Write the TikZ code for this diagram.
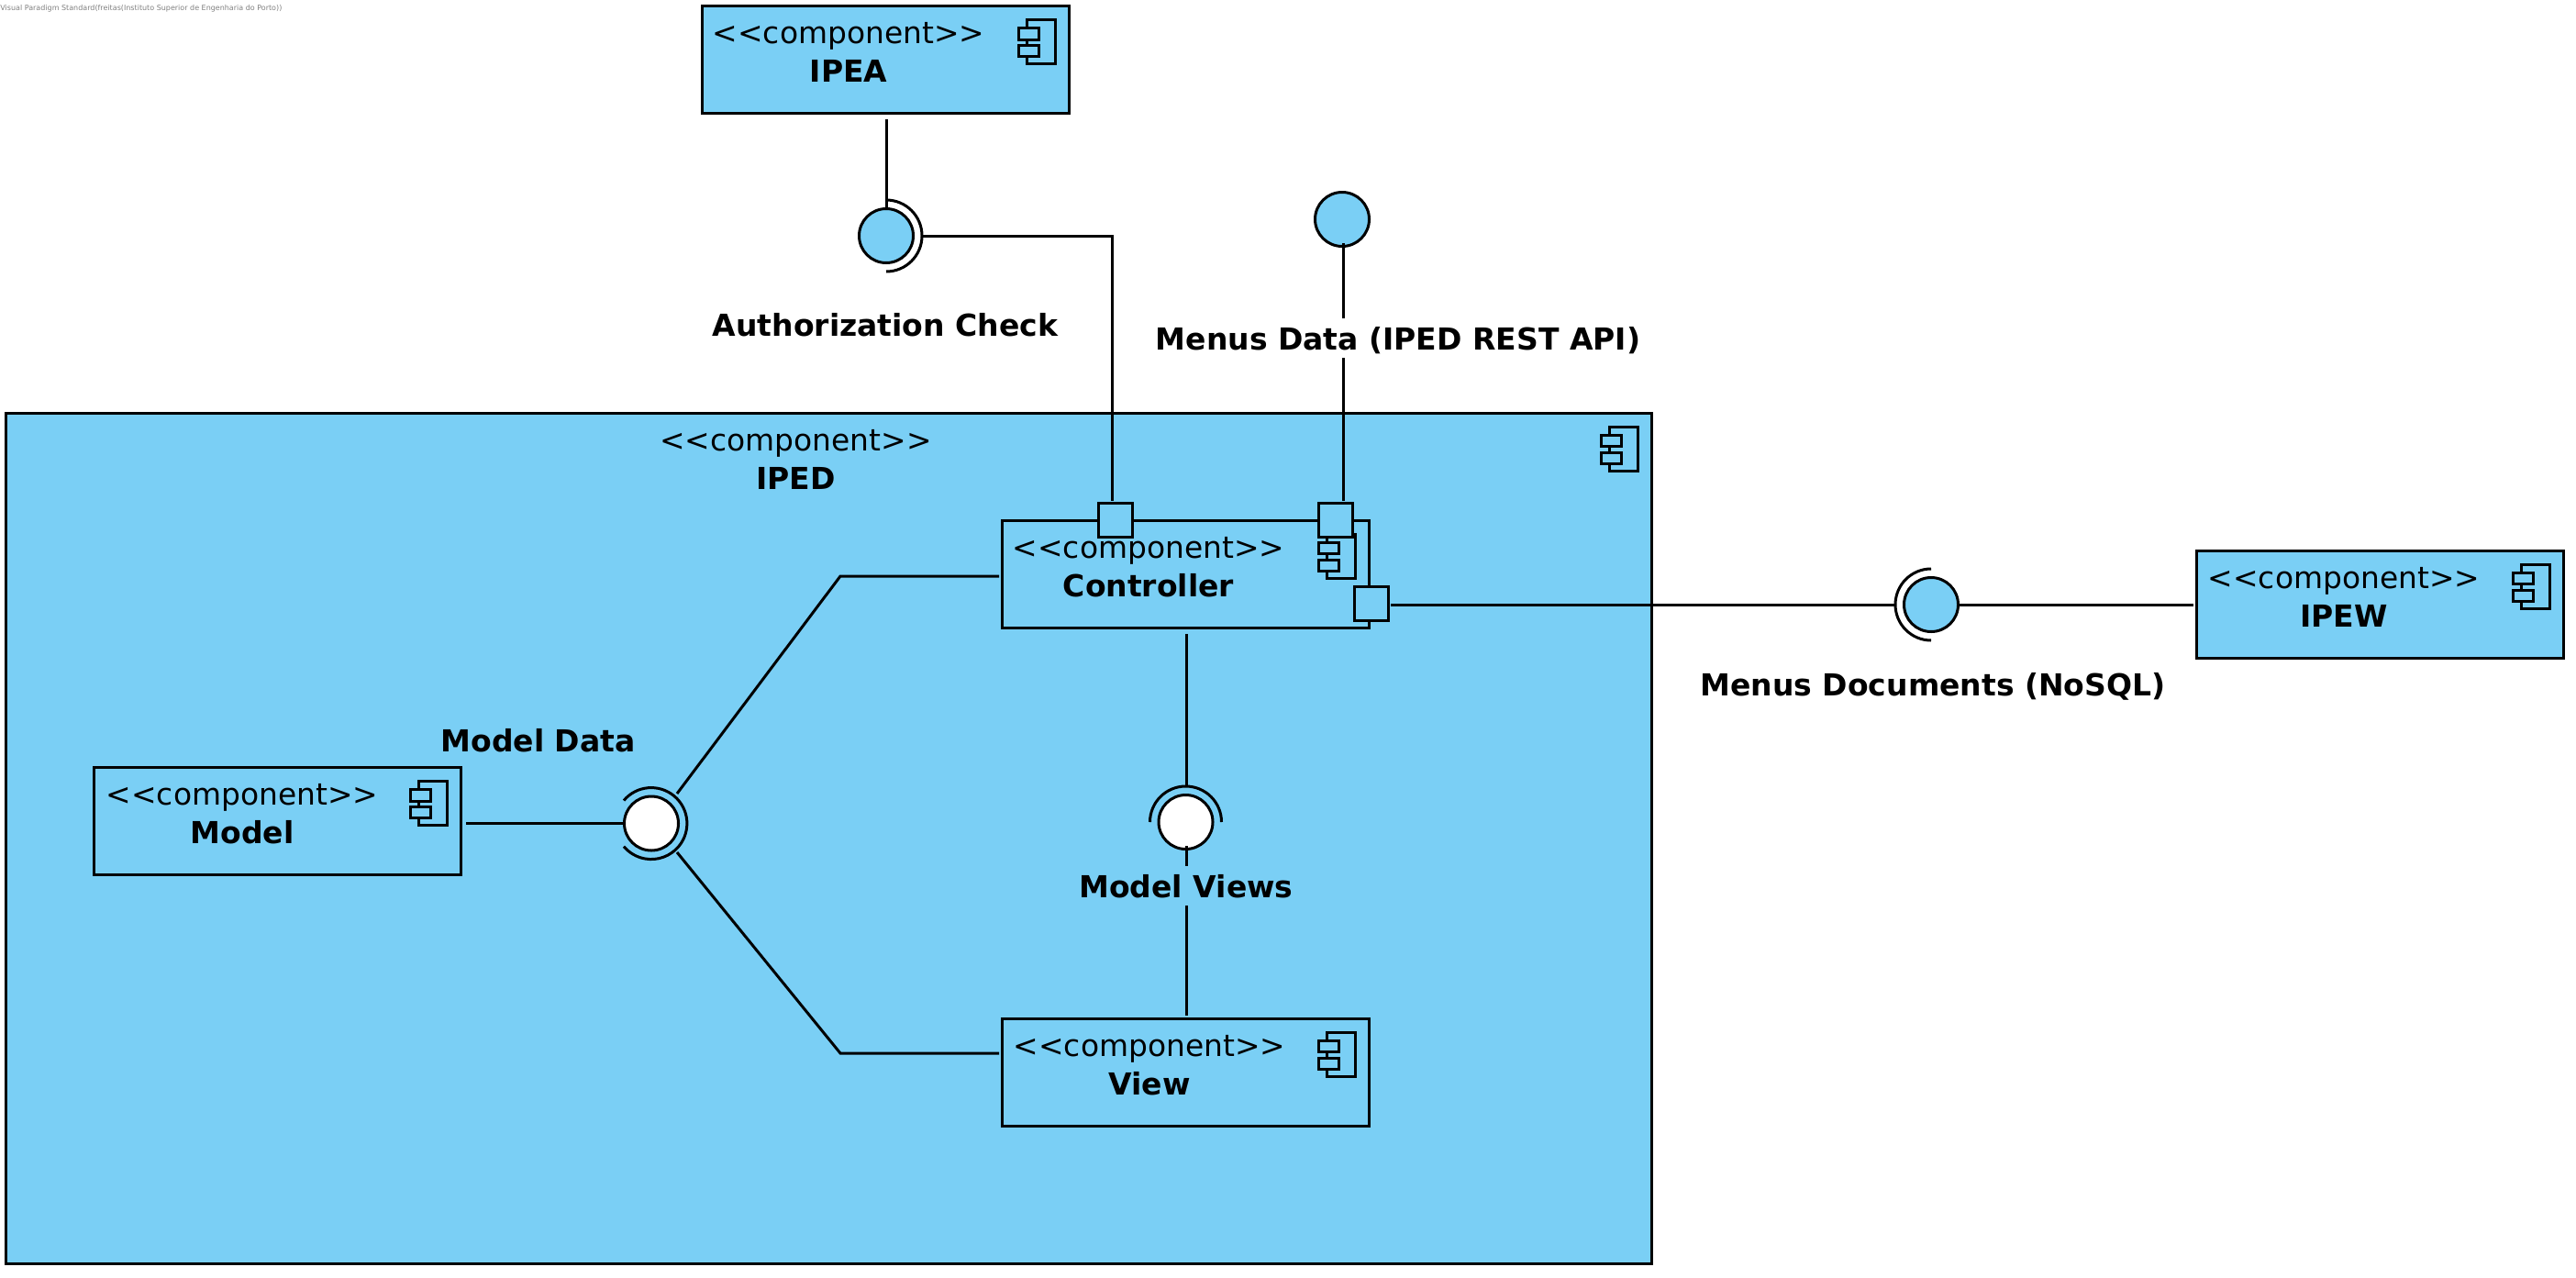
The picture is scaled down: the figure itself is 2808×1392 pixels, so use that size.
\documentclass[tikz,border=0pt]{standalone}
\usepackage{fontspec}
\setmainfont{DejaVu Sans}
\usetikzlibrary{calc}

\definecolor{compblue}{RGB}{122,207,245}

\tikzset{
  compbox/.style={rectangle,draw,fill=compblue,line width=1.5pt,inner sep=0pt,outer sep=0pt},
  portbox/.style={compbox,minimum width=18.5pt,minimum height=18.5pt},
  ball/.style={circle,draw,line width=1.5pt,inner sep=0pt,minimum size=29.5pt},
  conn/.style={line width=1.5pt},
  compstereo/.style={anchor=base,inner sep=0pt,font=\fontsize{16.45pt}{18pt}\selectfont},
  compname/.style={anchor=base,inner sep=0pt,font=\fontsize{16.5pt}{18pt}\selectfont\bfseries},
  ifacelabel/.style={compname,text height=17pt,text depth=4.5pt}
}

% box texts and the little component icon
\newcommand{\compparts}[3]{
  \node[compstereo] (#1stereo) at ($(#1.north west)+(#3,41)$) {<{}<component>{}>};
  \node[compname] (#1name) at ($(#1.north west)+(#3,83)$) {#2};
  \draw[conn] ($(#1.north east)+(-46,15)$) rectangle ($(#1.north east)+(-15,63)$);
  \draw[conn,fill=compblue] ($(#1.north east)+(-55,24)$) rectangle ($(#1.north east)+(-33,36.5)$);
  \draw[conn,fill=compblue] ($(#1.north east)+(-55,43)$) rectangle ($(#1.north east)+(-33,55)$);
}

\begin{document}
\begin{tikzpicture}[x=0.5pt,y=-0.5pt]

  \useasboundingbox (0,0) rectangle (2808,1392);

  \node[anchor=base west,inner sep=0pt,text=gray,font=\fontsize{4pt}{4.5pt}\selectfont] (header) at (0,11)
    {Visual Paradigm Standard(freitas(Instituto Superior de Engenharia do Porto))};

  \begin{scope}[every node/.append style={compbox}]
    \node[minimum width=897pt,minimum height=463.5pt] (iped) at (903.5,913.5) {};
  \end{scope}

  \begin{scope}[every node/.append style={compbox,minimum width=200pt,minimum height=58.5pt}]
    \node (ipea)       at (965,65)      {};
    \node (ipew)       at (2594,658.5)  {};
    \node (controller) at (1292,625.5)  {};
    \node (model)      at (302,895)     {};
    \node (view)       at (1292,1168.5) {};
  \end{scope}

  \compparts{iped}{IPED}{861}
  \compparts{ipea}{IPEA}{160}
  \compparts{ipew}{IPEW}{161}
  \compparts{controller}{Controller}{160}
  \compparts{model}{Model}{162}
  \compparts{view}{View}{161}

  % provided and required interfaces
  \node[ball,fill=compblue] (authball)  at (966,257)  {};
  \node[ball,fill=compblue] (menusball) at (1463,239) {};
  \node[ball,fill=compblue] (docsball)  at (2105,659) {};
  \node[ball,fill=white]    (databall)  at (710,897.5) {};
  \node[ball,fill=white]    (viewsball) at (1292.5,896) {};

  \coordinate (authcup)  at (1005,257);
  \coordinate (docscup)  at (2066,659);
  \coordinate (viewscup) at (1293,857);
  \coordinate (viewslow) at (1293,922);

  \draw[conn] (966,218) arc[start angle=90,end angle=-90,radius=19.5pt];
  \draw[conn] (2105,620) arc[start angle=90,end angle=270,radius=19.5pt];
  \draw[conn] (1253.5,896) arc[start angle=180,end angle=0,radius=19.5pt];
  \draw[conn] (680,872.5) arc[start angle=140,end angle=-140,radius=19.5pt];

  \begin{scope}[every node/.append style={portbox}]
    \node (authport)  at (1215.5,567) {};
    \node (menusport) at (1455.5,567) {};
    \node (docsport)  at (1494.5,657.5) {};
  \end{scope}

  \coordinate (authup)   at (966,130);
  \coordinate (authbend) at (1212,257);
  \coordinate (menusup)  at (1464.5,265);
  \coordinate (menusend) at (1464.5,546);
  \coordinate (databendup)   at (916,628);
  \coordinate (databenddown) at (916,1148);
  \coordinate (dataup)   at (738,865);
  \coordinate (datadown) at (738,929);

  \draw[conn] (authup) -- (authball.north);
  \draw[conn,shorten >=1.5pt] (authcup) -- (authbend) -- (authbend |- authport.north);
  \draw[conn] (menusup) -- (menusend);
  \draw[conn,shorten <=1.5pt] (docsport.east |- docscup) -- (docscup);
  \draw[conn,shorten >=1.5pt] (docsball.east) -- (ipew.west |- docsball);
  \draw[conn,shorten <=3.5pt] (controller.south -| viewscup) -- (viewscup);
  \draw[conn,shorten >=1.5pt] (viewslow) -- (viewslow |- view.north);
  \draw[conn,shorten <=3pt] (databall.west -| model.east) -- (databall.west);
  \draw[conn,shorten >=1.5pt] (dataup) -- (databendup) -- (databendup -| controller.west);
  \draw[conn,shorten >=1.5pt] (datadown) -- (databenddown) -- (databenddown -| controller.west);

  \node[ifacelabel] (authlabel)  at (965,366)  {Authorization Check};
  \node[ifacelabel,fill=white] (menuslabel) at (1524,381) {Menus Data (IPED REST API)};
  \node[ifacelabel] (docslabel)  at (2107,758) {Menus Documents (NoSQL)};
  \node[ifacelabel] (datalabel)  at (586.5,819) {Model Data};
  \node[ifacelabel,fill=compblue] (viewslabel) at (1293,978) {Model Views};

\end{tikzpicture}
\end{document}
